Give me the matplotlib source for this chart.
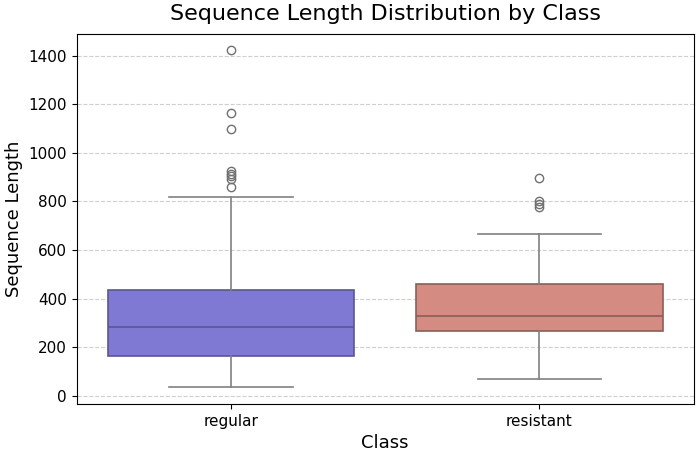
import matplotlib
matplotlib.use("Agg")
import matplotlib.pyplot as plt

# summary values
classes = ["regular", "resistant"]
q1 = [165, 266]
medians = [281, 330]
q3 = [434, 460]
whisker_low = [37, 69]
whisker_high = [818, 665]
outliers = [
    [1424, 1166, 1098, 925, 914, 903, 893, 858],
    [896, 800, 790, 778],
]
colors = ["#8079d3", "#d38b82"]
edge_colors = ["#5b5690", "#8c5e58"]

stats = []
for i, name in enumerate(classes):
    stats.append({
        "label": name,
        "q1": q1[i],
        "med": medians[i],
        "q3": q3[i],
        "whislo": whisker_low[i],
        "whishi": whisker_high[i],
        "fliers": outliers[i],
    })

fig, ax = plt.subplots(figsize=(6.97, 4.54), dpi=100)
bp = ax.bxp(stats, positions=[0, 1], widths=0.8, patch_artist=True,
            showfliers=True,
            whiskerprops=dict(color="#808080", linewidth=1.2),
            capprops=dict(color="#808080", linewidth=1.2),
            flierprops=dict(marker="o", markerfacecolor="none",
                            markeredgecolor="#707070", markersize=6))
for i, box in enumerate(bp["boxes"]):
    box.set_facecolor(colors[i])
    box.set_edgecolor(edge_colors[i])
    box.set_linewidth(1.2)
for i, med in enumerate(bp["medians"]):
    med.set_color(edge_colors[i])
    med.set_linewidth(1.2)
for i, cap in enumerate(bp["caps"]):
    xs = cap.get_xdata()
    c = (xs[0] + xs[1]) / 2
    cap.set_xdata([c - 0.2, c + 0.2])

ax.set_xlim(-0.5, 1.5)
ax.set_ylim(-35, 1490)
ax.set_yticks(range(0, 1401, 200))
ax.set_xticks([0, 1])
ax.set_xticklabels(classes)
ax.tick_params(labelsize=11)
ax.grid(True, axis="y", linestyle="--", alpha=0.7, color="#bbbbbb")
ax.set_axisbelow(True)
ax.set_title("Sequence Length Distribution by Class", fontsize=16, pad=10)
ax.set_xlabel("Class", fontsize=13)
ax.set_ylabel("Sequence Length", fontsize=13)

fig.subplots_adjust(left=0.11, right=0.995, top=0.925, bottom=0.11)
fig.savefig("out.png", dpi=100)
